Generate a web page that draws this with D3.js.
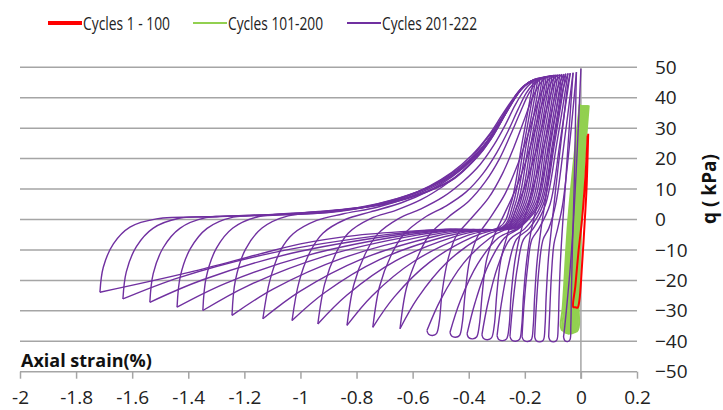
<!DOCTYPE html>
<html><head><meta charset="utf-8">
<script src="https://cdn.jsdelivr.net/npm/d3@7"></script>
<style>body{margin:0;background:#fff}svg{display:block}</style>
</head><body>
<svg id="chart" width="723" height="410"></svg>
<script>
// ---------- data ----------
const xTicks = [-2,-1.8,-1.6,-1.4,-1.2,-1,-0.8,-0.6,-0.4,-0.2,0,0.2];
const yTicks = [-50,-40,-30,-20,-10,0,10,20,30,40,50];
const seriesNames = ["Cycles 1 - 100","Cycles 101-200","Cycles 201-222"];
const seriesColors = ["#ff0000","#92d050","#7030a0"];
const xTitle = "Axial strain(%)";
const yTitle = "q ( kPa)";

// Cycles 1-100 (strain %, q kPa)
const redCycles = [
  [[0.026,28.2],[0.020,10],[0.014,0],[0.004,-15],[-0.006,-27],[-0.012,-29],[-0.020,-28.8],[-0.027,-28.8],[-0.020,-22],[-0.008,-10],[0.004,0],[0.016,14],[0.024,27.6]]
];

// Cycles 101-200
const greenCycles = [
  [[0.028,37.5],[-0.002,0],[-0.016,-30],[-0.022,-35.5],[-0.016,-36.8],[-0.008,-35.5],[-0.008,-28],[0.002,0],[0.025,37.5]],
  [[0.025,37.5],[-0.007,0],[-0.021,-30],[-0.028,-35.7],[-0.022,-37.0],[-0.014,-35.7],[-0.013,-28],[-0.003,0],[0.021,37.5]],
  [[0.021,37.5],[-0.012,0],[-0.027,-30],[-0.033,-35.9],[-0.027,-37.2],[-0.019,-35.9],[-0.019,-28],[-0.008,0],[0.018,37.5]],
  [[0.018,37.5],[-0.017,0],[-0.032,-30],[-0.039,-36.1],[-0.033,-37.4],[-0.025,-36.1],[-0.024,-28],[-0.013,0],[0.014,37.5]],
  [[0.014,37.5],[-0.021,0],[-0.038,-30],[-0.044,-36.2],[-0.038,-37.5],[-0.030,-36.2],[-0.030,-28],[-0.017,0],[0.011,37.5]],
  [[0.011,37.5],[-0.026,0],[-0.043,-30],[-0.050,-36.2],[-0.044,-37.5],[-0.036,-36.2],[-0.035,-28],[-0.022,0],[0.007,37.5]],
  [[0.007,37.5],[-0.031,0],[-0.049,-30],[-0.055,-36.1],[-0.049,-37.4],[-0.041,-36.1],[-0.041,-28],[-0.027,0],[0.004,37.5]],
  [[0.004,37.5],[-0.036,0],[-0.054,-30],[-0.061,-35.9],[-0.055,-37.2],[-0.047,-35.9],[-0.046,-28],[-0.032,0],[0.000,37.5]],
  [[0.000,37.5],[-0.040,0],[-0.060,-29.5],[-0.066,-35.5],[-0.060,-36.8],[-0.052,-35.5],[-0.052,-28],[-0.036,0],[-0.004,37.5]],
  [[-0.004,37.5],[-0.045,0],[-0.065,-29],[-0.072,-35],[-0.066,-36.4],[-0.058,-35],[-0.057,-28],[-0.041,0],[-0.004,38]]
];

// Cycles 201-222: unloading branch (compression peak -> extension trough)
const purpleUnload = [
  [[-0.170,45.3],[-0.21,25],[-0.25,5],[-0.29,-2.5],[-0.55,-3.5],[-0.8,-5.2],[-1.0,-8.0],[-1.144,-11.3],[-1.394,-17.3],[-1.715,-23.9]],
  [[-0.162,45.6],[-0.202,25],[-0.242,5],[-0.28,-2.5],[-0.483,-3.2],[-0.686,-4.9],[-1.092,-10.8],[-1.43,-19.0],[-1.633,-26.1]],
  [[-0.154,45.8],[-0.194,25],[-0.234,5],[-0.275,-2.5],[-0.464,-3.2],[-0.654,-5.0],[-1.032,-11.1],[-1.348,-19.8],[-1.537,-27.2]],
  [[-0.146,46.0],[-0.186,25],[-0.226,5],[-0.27,-2.5],[-0.446,-3.3],[-0.621,-5.1],[-0.972,-11.7],[-1.265,-20.9],[-1.440,-28.8]],
  [[-0.138,46.2],[-0.178,25],[-0.218,5],[-0.265,-2.5],[-0.427,-3.3],[-0.590,-5.2],[-0.915,-12.1],[-1.186,-21.7],[-1.348,-29.9]],
  [[-0.131,46.4],[-0.171,25],[-0.211,5],[-0.26,-2.5],[-0.408,-3.4],[-0.555,-5.4],[-0.85,-12.7],[-1.096,-22.8],[-1.244,-31.5]],
  [[-0.124,46.6],[-0.164,25],[-0.204,5],[-0.255,-2.5],[-0.387,-3.4],[-0.519,-5.5],[-0.782,-13.0],[-1.002,-23.6],[-1.134,-32.6]],
  [[-0.117,46.8],[-0.157,25],[-0.197,5],[-0.25,-2.5],[-0.367,-3.4],[-0.484,-5.6],[-0.718,-13.2],[-0.913,-24.0],[-1.030,-33.2]],
  [[-0.110,47.0],[-0.150,25],[-0.190,5],[-0.245,-2.5],[-0.349,-3.5],[-0.453,-5.7],[-0.661,-13.6],[-0.834,-24.8],[-0.938,-34.3]],
  [[-0.103,47.2],[-0.143,25],[-0.183,5],[-0.24,-2.5],[-0.329,-3.5],[-0.418,-5.7],[-0.596,-13.8],[-0.745,-25.1],[-0.834,-34.8]],
  [[-0.096,47.3],[-0.136,25],[-0.176,5],[-0.235,-2.5],[-0.311,-3.5],[-0.387,-5.8],[-0.539,-14.0],[-0.666,-25.5],[-0.742,-35.4]],
  [[-0.089,47.4],[-0.129,25],[-0.169,5],[-0.23,-2.5],[-0.292,-3.5],[-0.355,-5.8],[-0.479,-14.2],[-0.583,-25.9],[-0.645,-35.9]],
  [[-0.082,47.5],[-0.122,25],[-0.162,5],[-0.225,-2.5],[-0.274,-3.5],[-0.322,-5.9],[-0.419,-14.4],[-0.50,-26.3],[-0.549,-36.5]],
  [[-0.075,47.6],[-0.115,25],[-0.155,5],[-0.22,-2.5],[-0.294,-6.0],[-0.368,-14.6],[-0.43,-26.7],[-0.467,-37.1]],
  [[-0.068,47.7],[-0.108,25],[-0.148,5],[-0.215,-2.5],[-0.272,-6.0],[-0.33,-14.9],[-0.377,-27.2],[-0.406,-37.6]],
  [[-0.061,47.8],[-0.101,25],[-0.141,5],[-0.20,-3],[-0.253,-6.5],[-0.296,-15.3],[-0.332,-27.6],[-0.353,-37.9]],
  [[-0.054,47.9],[-0.094,25],[-0.134,5],[-0.185,-3],[-0.23,-6.5],[-0.259,-15.4],[-0.284,-27.8],[-0.299,-38.2]],
  [[-0.046,48.0],[-0.086,25],[-0.126,5],[-0.17,-3],[-0.205,-6.6],[-0.226,-15.5],[-0.243,-28],[-0.253,-38.4]],
  [[-0.038,48.1],[-0.075,25],[-0.11,5],[-0.15,-3],[-0.175,-6.6],[-0.19,-15.6],[-0.203,-28.3],[-0.210,-38.5]],
  [[-0.028,48.2],[-0.06,25],[-0.09,5],[-0.115,-3],[-0.135,-6.6],[-0.149,-15.7],[-0.159,-28.3],[-0.165,-38.6]],
  [[-0.016,48.4],[-0.04,25],[-0.065,5],[-0.083,-3],[-0.096,-8],[-0.105,-18],[-0.111,-30],[-0.115,-38.6]],
  [[0.0,49.5],[-0.012,25],[-0.026,0],[-0.04,-18],[-0.052,-30],[-0.058,-35.5],[-0.062,-38.6]]
];

// Cycles 201-222: reloading branch (extension trough -> next compression peak)
const purpleReload = [
  [[-1.715,-23.9],[-1.703,-15.7],[-1.667,-8],[-1.608,-2.5],[-1.513,0.2],[-1.3,0.9],[-1.1,1.6],[-0.9,2.8],[-0.7,5.0],[-0.55,9],[-0.45,13.5],[-0.38,19.5],[-0.32,26.5],[-0.27,34.5],[-0.23,41],[-0.2,44],[-0.175,45.2]],
  [[-1.633,-26.1],[-1.621,-17.2],[-1.585,-8.9],[-1.526,-2.9],[-1.433,0.4],[-1.3,1.0],[-1.1,1.7],[-0.9,2.9],[-0.7,5.2],[-0.55,9.2],[-0.45,13.8],[-0.38,19.8],[-0.32,26.8],[-0.27,34.8],[-0.23,41.2],[-0.2,44.2],[-0.170,45.3]],
  [[-1.537,-27.2],[-1.525,-17.8],[-1.489,-9.2],[-1.430,-2.9],[-1.337,0.6],[-1.2,1.2],[-1.0,2.1],[-0.8,3.8],[-0.65,7.0],[-0.52,11.5],[-0.43,16.5],[-0.36,22.5],[-0.30,30],[-0.25,37.5],[-0.215,42.5],[-0.185,45],[-0.162,45.6]],
  [[-1.440,-28.8],[-1.428,-18.5],[-1.392,-9.5],[-1.333,-2.9],[-1.24,0.8],[-1.1,1.4],[-0.9,2.4],[-0.75,4.5],[-0.62,7.8],[-0.5,12.5],[-0.42,17.5],[-0.35,24],[-0.29,31.5],[-0.245,38.5],[-0.21,43],[-0.18,45.4],[-0.154,45.8]],
  [[-1.348,-29.9],[-1.336,-19],[-1.30,-9.5],[-1.241,-2.8],[-1.148,1.0],[-1.0,1.8],[-0.85,3.0],[-0.7,5.3],[-0.58,9],[-0.48,14],[-0.4,19.5],[-0.34,26],[-0.285,33],[-0.24,39.5],[-0.205,43.5],[-0.175,45.6],[-0.146,46.0]],
  [[-1.244,-31.5],[-1.232,-20],[-1.196,-9.8],[-1.137,-2.8],[-1.044,1.2],[-0.9,2.3],[-0.76,4.2],[-0.64,7],[-0.54,11],[-0.46,15.5],[-0.39,21],[-0.33,27.5],[-0.28,34.5],[-0.235,40.5],[-0.2,44],[-0.17,45.8],[-0.138,46.2]],
  [[-1.134,-32.6],[-1.109,-20],[-1.07,-10],[-1.026,-4.7],[-0.942,-0.3],[-0.85,1.8],[-0.72,4.2],[-0.6,7.8],[-0.5,12],[-0.42,17],[-0.36,22.5],[-0.31,29],[-0.265,36],[-0.225,41.5],[-0.195,44.5],[-0.165,46],[-0.131,46.4]],
  [[-1.030,-33.2],[-1.005,-20.5],[-0.965,-10.5],[-0.92,-4.5],[-0.84,0],[-0.75,2.5],[-0.64,5.5],[-0.54,9.5],[-0.46,14],[-0.39,19.5],[-0.335,25.5],[-0.29,32],[-0.25,38],[-0.215,42.5],[-0.185,45],[-0.158,46.2],[-0.124,46.6]],
  [[-0.938,-34.3],[-0.913,-21],[-0.873,-11],[-0.83,-4.5],[-0.75,0.3],[-0.66,3],[-0.57,6.5],[-0.49,11],[-0.42,16],[-0.36,21.5],[-0.31,28],[-0.27,34.5],[-0.235,40],[-0.205,43.5],[-0.178,45.5],[-0.152,46.4],[-0.117,46.8]],
  [[-0.834,-34.8],[-0.81,-21.5],[-0.77,-11.5],[-0.725,-4.8],[-0.65,0.3],[-0.57,3.5],[-0.49,7.5],[-0.42,12.5],[-0.36,18],[-0.31,24.5],[-0.27,31],[-0.235,37.5],[-0.205,42],[-0.178,44.8],[-0.15,46.3],[-0.110,47.0]],
  [[-0.742,-35.4],[-0.718,-22],[-0.678,-12],[-0.633,-5],[-0.56,0.5],[-0.48,4.5],[-0.41,9],[-0.35,15],[-0.3,22],[-0.26,29],[-0.225,36],[-0.195,41.5],[-0.17,44.5],[-0.143,46.4],[-0.103,47.2]],
  [[-0.645,-35.9],[-0.622,-22.5],[-0.583,-12.5],[-0.54,-5],[-0.47,1],[-0.40,6],[-0.34,12.5],[-0.29,20],[-0.25,28],[-0.215,35.5],[-0.185,41.5],[-0.16,44.8],[-0.135,46.6],[-0.096,47.3]],
  [[-0.549,-36.5],[-0.543,-37.7],[-0.529,-38.1],[-0.515,-37.5],[-0.505,-33.5],[-0.495,-24],[-0.475,-13.5],[-0.445,-5.5],[-0.39,0.5],[-0.33,7],[-0.28,15],[-0.24,23.5],[-0.205,32],[-0.175,39.5],[-0.15,44],[-0.125,46.6],[-0.089,47.4]],
  [[-0.467,-37.1],[-0.461,-38.3],[-0.447,-38.7],[-0.433,-38.1],[-0.423,-34],[-0.413,-24.5],[-0.397,-13.5],[-0.368,-5.5],[-0.32,1],[-0.27,8.5],[-0.23,17],[-0.195,26],[-0.165,35],[-0.14,42],[-0.115,46],[-0.082,47.5]],
  [[-0.406,-37.6],[-0.40,-38.8],[-0.386,-39.2],[-0.372,-38.6],[-0.362,-34.5],[-0.352,-24.5],[-0.337,-13.5],[-0.31,-5.5],[-0.272,2],[-0.23,10.5],[-0.195,19.5],[-0.165,29],[-0.14,37.5],[-0.115,43.5],[-0.095,46.5],[-0.075,47.6]],
  [[-0.353,-37.9],[-0.347,-39.1],[-0.333,-39.5],[-0.319,-38.9],[-0.309,-34.8],[-0.30,-24.5],[-0.286,-13.5],[-0.262,-5],[-0.233,3],[-0.195,12],[-0.163,21.5],[-0.137,31],[-0.113,39.5],[-0.093,45],[-0.068,47.7]],
  [[-0.299,-38.2],[-0.293,-39.4],[-0.279,-39.8],[-0.265,-39.2],[-0.256,-35],[-0.249,-25],[-0.236,-14],[-0.217,-5],[-0.19,4],[-0.16,14],[-0.132,24],[-0.108,34],[-0.088,42],[-0.061,47.8]],
  [[-0.253,-38.4],[-0.247,-39.6],[-0.233,-40.0],[-0.219,-39.4],[-0.211,-35],[-0.205,-25.5],[-0.194,-14],[-0.179,-4.5],[-0.156,5],[-0.131,16],[-0.107,27],[-0.086,37],[-0.07,44],[-0.054,47.9]],
  [[-0.210,-38.5],[-0.204,-39.7],[-0.190,-40.1],[-0.177,-39.5],[-0.170,-35],[-0.165,-25.5],[-0.156,-13.5],[-0.142,-3],[-0.124,8],[-0.106,20],[-0.085,32],[-0.066,42],[-0.046,48.0]],
  [[-0.165,-38.6],[-0.159,-39.8],[-0.146,-40.2],[-0.134,-39.6],[-0.128,-35],[-0.124,-25.5],[-0.116,-13],[-0.104,-2],[-0.09,10],[-0.074,23],[-0.059,35],[-0.048,43.5],[-0.038,48.1]],
  [[-0.115,-38.6],[-0.109,-39.8],[-0.097,-40.2],[-0.086,-39.6],[-0.081,-35],[-0.078,-25.5],[-0.072,-12],[-0.064,0],[-0.054,13],[-0.044,27],[-0.035,39],[-0.028,48.2]],
  [[-0.062,-38.6],[-0.057,-39.8],[-0.047,-40.1],[-0.039,-39.5],[-0.036,-35],[-0.034,-25],[-0.031,-12],[-0.027,1],[-0.023,15],[-0.020,29],[-0.018,40],[-0.016,48.4]]
];

// ---------- drawing ----------
const svg = d3.select("#chart");
const x = d3.scaleLinear().domain([-2, 0.2]).range([20, 637]);
const y = d3.scaleLinear().domain([-50, 50]).range([371.7, 67.3]);
const font = "'Open Sans', 'Liberation Sans', sans-serif";
const gridColor = "#a5a5a5";

// gridlines
svg.append("g").selectAll("line").data(yTicks).join("line")
  .attr("x1", x(-2)).attr("x2", x(0.2))
  .attr("y1", d => y(d)).attr("y2", d => y(d))
  .attr("stroke", gridColor).attr("stroke-width", 1.5);

// vertical axis line at x = 0
svg.append("line")
  .attr("x1", x(0)).attr("x2", x(0))
  .attr("y1", y(50)).attr("y2", y(-50) + 7)
  .attr("stroke", gridColor).attr("stroke-width", 1.5);

// x axis
const xAxis = svg.append("g").attr("transform", `translate(0,${y(-50)})`)
  .call(d3.axisBottom(x).tickValues(xTicks).tickSize(7).tickSizeOuter(0).tickPadding(12)
    .tickFormat(d => String(d)));
xAxis.select(".domain").remove();
xAxis.selectAll(".tick line").attr("stroke", gridColor).attr("stroke-width", 1.5);
xAxis.selectAll(".tick text").attr("font-family", font).attr("font-size", 19).attr("fill", "#222");

// y axis on the right
const yAxis = svg.append("g").attr("transform", `translate(${x(0.2)},0)`)
  .call(d3.axisRight(y).tickValues(yTicks).tickSize(0).tickPadding(18));
yAxis.select(".domain").remove();
yAxis.selectAll(".tick text").attr("font-family", font).attr("font-size", 19).attr("fill", "#222");

// axis titles
svg.append("text").attr("x", 21).attr("y", 367).text(xTitle)
  .attr("font-family", font).attr("font-weight", "bold").attr("font-size", 18).attr("fill", "#111");
svg.append("text").attr("transform", "translate(716,189) rotate(-90)")
  .attr("text-anchor", "middle").text(yTitle)
  .attr("font-family", font).attr("font-weight", "bold").attr("font-size", 19).attr("fill", "#111");

// series
const line = d3.line().x(d => x(d[0])).y(d => y(d[1])).curve(d3.curveCatmullRom.alpha(0.5));
const plot = svg.append("g").attr("fill", "none").attr("stroke-linejoin", "round");
plot.append("g").selectAll("path").data(greenCycles).join("path")
  .attr("d", line).attr("stroke", seriesColors[1]).attr("stroke-width", 2);
plot.append("g").selectAll("path").data(redCycles).join("path")
  .attr("d", line).attr("stroke", seriesColors[0]).attr("stroke-width", 2);
plot.append("g").selectAll("path").data(purpleUnload.concat(purpleReload)).join("path")
  .attr("d", line).attr("stroke", seriesColors[2]).attr("stroke-width", 1.4);

// legend
const legendX = [48, 193, 347];
const legendW = [4, 2, 2];
const legendTextW = [87, 95, 95];
const lg = svg.append("g");
seriesNames.forEach((name, i) => {
  lg.append("line").attr("x1", legendX[i]).attr("x2", legendX[i] + 34)
    .attr("y1", 23).attr("y2", 23)
    .attr("stroke", seriesColors[i]).attr("stroke-width", legendW[i]);
  lg.append("text").attr("x", legendX[i] + 35).attr("y", 29.5).text(name)
    .attr("textLength", legendTextW[i]).attr("lengthAdjust", "spacingAndGlyphs")
    .attr("font-family", font).attr("font-size", 17.5).attr("fill", "#222");
});
</script>
</body></html>
